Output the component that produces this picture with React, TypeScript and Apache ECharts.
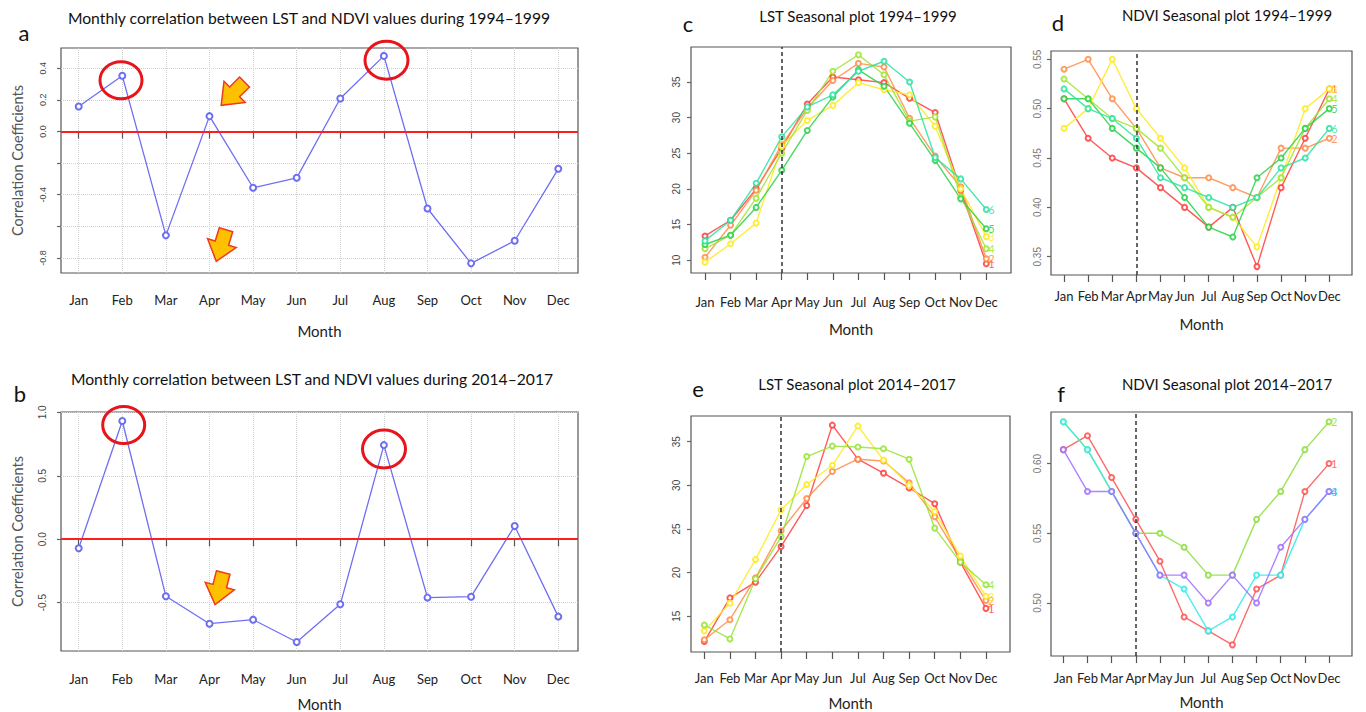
import { useEffect, useRef } from "react";
import * as echarts from "echarts";

// Month axis
const MONTHS = ["Jan", "Feb", "Mar", "Apr", "May", "Jun", "Jul", "Aug", "Sep", "Oct", "Nov", "Dec"];
const MONTH_POS = [1, 2, 3, 4, 5, 6, 7, 8, 9, 10, 11, 12];

// Monthly LST–NDVI correlation coefficients
const corr9499 = [0.158, 0.352, -0.657, 0.097, -0.356, -0.293, 0.209, 0.478, -0.487, -0.834, -0.691, -0.236];
const corr1417 = [-0.071, 0.932, -0.45, -0.666, -0.634, -0.81, -0.513, 0.742, -0.46, -0.453, 0.105, -0.61];

// Seasonal LST (°C), one row per year
const lst9499 = [
  [13.4, 15.6, 20.0, 25.7, 31.9, 35.7, 35.3, 34.9, 32.7, 30.7, 19.8, 9.5],
  [10.4, 14.9, 19.8, 26.2, 31.3, 35.2, 37.6, 37.1, 29.9, 24.6, 20.3, 10.2],
  [9.7, 12.3, 15.2, 26.0, 29.6, 31.7, 34.9, 33.9, 33.2, 28.8, 20.0, 13.3],
  [11.6, 13.5, 18.7, 25.0, 31.0, 36.5, 38.8, 36.0, 29.5, 30.1, 18.9, 11.6],
  [12.2, 13.5, 17.4, 22.6, 28.2, 32.9, 36.7, 34.4, 29.2, 24.0, 18.6, 14.4],
  [12.7, 15.6, 20.8, 27.3, 31.5, 33.2, 36.5, 37.9, 35.0, 24.4, 21.4, 17.1],
];
const lst1417 = [
  [12.1, 17.1, 18.9, 23.0, 27.7, 36.9, 33.0, 31.4, 29.7, 27.9, 21.2, 15.9],
  [12.3, 14.6, 19.4, 24.8, 28.5, 31.6, 33.0, 32.8, 30.3, 26.4, 21.5, 16.8],
  [13.3, 16.5, 21.5, 27.2, 30.1, 32.3, 36.8, 32.9, 30.0, 27.0, 21.9, 17.3],
  [14.0, 12.4, 19.3, 24.1, 33.3, 34.5, 34.4, 34.2, 33.0, 25.1, 21.2, 18.6],
];

// Seasonal NDVI, one row per year
const ndvi9499 = [
  [0.51, 0.47, 0.45, 0.44, 0.42, 0.40, 0.38, 0.40, 0.34, 0.42, 0.47, 0.52],
  [0.54, 0.55, 0.51, 0.48, 0.44, 0.43, 0.43, 0.42, 0.41, 0.46, 0.46, 0.47],
  [0.48, 0.50, 0.55, 0.50, 0.47, 0.44, 0.40, 0.39, 0.36, 0.43, 0.50, 0.52],
  [0.53, 0.51, 0.49, 0.48, 0.46, 0.43, 0.40, 0.39, 0.41, 0.43, 0.48, 0.51],
  [0.51, 0.51, 0.48, 0.46, 0.44, 0.41, 0.38, 0.37, 0.43, 0.45, 0.48, 0.50],
  [0.52, 0.50, 0.49, 0.47, 0.43, 0.42, 0.41, 0.40, 0.41, 0.44, 0.45, 0.48],
];
const ndvi1417 = [
  [0.61, 0.62, 0.59, 0.56, 0.53, 0.49, 0.48, 0.47, 0.51, 0.52, 0.58, 0.60],
  [0.63, 0.61, 0.58, 0.55, 0.55, 0.54, 0.52, 0.52, 0.56, 0.58, 0.61, 0.63],
  [0.63, 0.61, 0.58, 0.55, 0.52, 0.51, 0.48, 0.49, 0.52, 0.52, 0.56, 0.58],
  [0.61, 0.58, 0.58, 0.55, 0.52, 0.52, 0.50, 0.52, 0.50, 0.54, 0.56, 0.58],
];

// Year labels drawn at the end of each seasonal line
const yearLabels6 = ["1", "2", "3", "4", "5", "6"];
const yearLabels4 = ["1", "2", "3", "4"];

// Axis tick positions
const corrTicksA = [-0.8, -0.6, -0.4, -0.2, 0, 0.2, 0.4];
const corrLabelsA = [-0.8, -0.4, 0, 0.2, 0.4];
const corrTicksB = [-0.5, 0, 0.5, 1.0];
const lstTicks9499 = [10, 15, 20, 25, 30, 35];
const lstTicks1417 = [15, 20, 25, 30, 35];
const ndviTicks9499 = [0.35, 0.4, 0.45, 0.5, 0.55];
const ndviTicks1417 = [0.5, 0.55, 0.6];

const FONT = "Lato, 'Noto Sans', sans-serif";
const TICK_FONT = "'Liberation Sans', Arial, sans-serif";

const COLORS6 = [
  "rgba(255,60,60,0.85)",
  "rgba(255,140,70,0.85)",
  "rgba(255,235,40,0.9)",
  "rgba(160,228,50,0.85)",
  "rgba(40,210,70,0.85)",
  "rgba(40,228,160,0.85)",
];
const COLORS_E = ["rgba(255,60,60,0.85)", "rgba(255,140,70,0.85)", "rgba(255,235,40,0.9)", "rgba(150,228,50,0.85)"];
const COLORS_F = ["rgba(255,70,70,0.8)", "rgba(140,222,60,0.85)", "rgba(60,235,235,0.9)", "rgba(160,110,255,0.85)"];

const toPairs = (vals: number[]) => vals.map((v, i) => [MONTH_POS[i], v]);

// Block arrow pointing down, centred on the origin
const ARROW_PTS = [
  [-7, -17],
  [7, -17],
  [7, -3],
  [15, -3],
  [0, 16],
  [-15, -3],
  [-7, -3],
];

function arrow(x: number, y: number, rotation: number) {
  return {
    type: "polygon",
    x,
    y,
    rotation,
    z: 100,
    shape: { points: ARROW_PTS },
    style: { fill: "#FFC000", stroke: "#EE3A1E", lineWidth: 1.5 },
  };
}

function ring(cx: number, cy: number, rx: number, ry: number) {
  return {
    type: "ellipse",
    z: 100,
    shape: { cx, cy, rx, ry },
    style: { fill: "none", stroke: "#E8141B", lineWidth: 3 },
  };
}

function label(text: string, x: number, y: number, size: number) {
  return {
    type: "text",
    x,
    y,
    z: 100,
    style: {
      text,
      fontSize: size,
      fontFamily: FONT,
      fill: "#111",
      align: "center",
      verticalAlign: "middle",
    },
  };
}

function monthAxis(gridIndex: number, min: number, max: number, margin: number, nameGap: number, grid: boolean) {
  return {
    type: "value",
    gridIndex,
    min,
    max,
    axisLine: { show: false },
    axisTick: { show: true, customValues: MONTH_POS, length: 7, lineStyle: { color: "#555", width: 1.2 } },
    axisLabel: {
      customValues: MONTH_POS,
      formatter: (v: number) => MONTHS[Math.round(v) - 1],
      margin,
      color: "#222",
      fontSize: 13,
      fontFamily: FONT,
    },
    splitLine: { show: grid, lineStyle: { type: "dotted", color: "#cfcfcf", width: 1 } },
    name: "Month",
    nameLocation: "middle",
    nameGap,
    nameTextStyle: { fontSize: 15, color: "#222", fontFamily: FONT },
  };
}

function valueAxis(
  gridIndex: number,
  min: number,
  max: number,
  ticks: number[],
  labels: number[],
  digits: number,
  margin: number,
  opts: { grid?: boolean; name?: string; fontSize?: number; color?: string } = {}
) {
  return {
    type: "value",
    gridIndex,
    min,
    max,
    axisLine: { show: false },
    axisTick: { show: true, customValues: ticks, length: 4, lineStyle: { color: "#666", width: 1.2 } },
    axisLabel: {
      customValues: labels,
      rotate: 90,
      formatter: (v: number) => v.toFixed(digits),
      margin,
      color: opts.color ?? "#444",
      fontSize: opts.fontSize ?? 10,
      fontFamily: TICK_FONT,
    },
    splitLine: { show: !!opts.grid, lineStyle: { type: "dotted", color: "#cfcfcf", width: 1 } },
    name: opts.name ?? "",
    nameLocation: "middle",
    nameGap: 36,
    nameRotate: 90,
    nameTextStyle: { fontSize: 14.5, color: "#555", fontFamily: FONT },
  };
}

function corrSeries(idx: number, vals: number[]) {
  return {
    type: "line",
    xAxisIndex: idx,
    yAxisIndex: idx,
    data: toPairs(vals),
    color: "#6E6EF5",
    lineStyle: { width: 1.3, color: "#6E6EF5" },
    symbol: "emptyCircle",
    symbolSize: 6,
    itemStyle: { color: "#6E6EF5", borderWidth: 1.3 },
    markLine: {
      silent: true,
      symbol: ["none", "none"],
      label: { show: false },
      lineStyle: { color: "#FF1E1E", width: 2.2, type: "solid" },
      data: [{ yAxis: 0 }],
    },
  };
}

function seasonalSeries(idx: number, rows: number[][], colors: string[], names: string[]) {
  return rows.map((vals, k) => ({
    type: "line",
    xAxisIndex: idx,
    yAxisIndex: idx,
    data: toPairs(vals),
    color: colors[k],
    lineStyle: { width: 1.4, color: colors[k] },
    symbol: "emptyCircle",
    symbolSize: 5,
    itemStyle: { color: colors[k], borderWidth: 1 },
    endLabel: {
      show: true,
      formatter: names[k],
      color: colors[k],
      fontSize: 11,
      fontFamily: FONT,
      distance: 2,
    },
    markLine:
      k === 0
        ? {
            silent: true,
            symbol: ["none", "none"],
            label: { show: false },
            lineStyle: { color: "#333", width: 1.5, type: [4, 3] },
            data: [{ xAxis: 4 }],
          }
        : undefined,
  }));
}

export default function App() {
  const ref = useRef<HTMLDivElement>(null);

  useEffect(() => {
    document.body.style.margin = "0";
    if (!ref.current) return;
    const chart = echarts.init(ref.current, null, { renderer: "svg" });

    const gridBox = { show: true, borderColor: "#555", borderWidth: 1.2, backgroundColor: "transparent", outerBoundsMode: "none" };

    chart.setOption({
      animation: false,
      backgroundColor: "#ffffff",
      grid: [
        { ...gridBox, left: 61, top: 48, width: 517, height: 225 },
        { ...gridBox, left: 61, top: 412, width: 517, height: 239 },
        { ...gridBox, left: 691, top: 47, width: 320, height: 226 },
        { ...gridBox, left: 1051, top: 51, width: 301, height: 224 },
        { ...gridBox, left: 691, top: 416, width: 319, height: 236 },
        { ...gridBox, left: 1051, top: 412, width: 301, height: 244 },
      ],
      xAxis: [
        monthAxis(0, 0.594, 12.452, 20, 50, true),
        monthAxis(1, 0.594, 12.452, 21, 45, true),
        monthAxis(2, 0.452, 12.966, 22, 48, false),
        monthAxis(3, 0.46, 12.94, 14, 41, false),
        monthAxis(4, 0.48, 12.94, 19, 43, false),
        monthAxis(5, 0.49, 12.95, 15, 38, false),
      ],
      yAxis: [
        valueAxis(0, -0.895, 0.528, corrTicksA, corrLabelsA, 1, 14, { grid: true, name: "Correlation Coefficients", fontSize: 9 }),
        valueAxis(1, -0.881, 1.003, corrTicksB, corrTicksB, 1, 14, { grid: true, name: "Correlation Coefficients" }),
        valueAxis(2, 8.2, 39.9, lstTicks9499, lstTicks9499, 0, 10),
        valueAxis(3, 0.3315, 0.5584, ndviTicks9499, ndviTicks9499, 2, 9, { color: "#777" }),
        valueAxis(4, 10.9, 37.95, lstTicks1417, lstTicks1417, 0, 10),
        valueAxis(5, 0.462, 0.637, ndviTicks1417, ndviTicks1417, 2, 9, { color: "#777" }),
      ],
      series: [
        corrSeries(0, corr9499),
        corrSeries(1, corr1417),
        ...seasonalSeries(2, lst9499, COLORS6, yearLabels6),
        ...seasonalSeries(3, ndvi9499, COLORS6, yearLabels6),
        ...seasonalSeries(4, lst1417, COLORS_E, yearLabels4),
        ...seasonalSeries(5, ndvi1417, COLORS_F, yearLabels4),
      ],
      graphic: [
        label("Monthly correlation between LST and NDVI values during 1994\u20131999", 309, 18, 15.7),
        label("Monthly correlation between LST and NDVI values during 2014\u20132017", 312, 379, 15.7),
        label("LST Seasonal plot 1994\u20131999", 858, 16, 15),
        label("NDVI Seasonal plot 1994\u20131999", 1227, 15, 15),
        label("LST Seasonal plot 2014\u20132017", 857, 384, 15),
        label("NDVI Seasonal plot 2014\u20132017", 1227, 384, 15),
        label("a", 24, 32, 22),
        label("b", 20, 393, 22),
        label("c", 688, 23, 22),
        label("d", 1058, 22, 22),
        label("e", 698, 388, 22),
        label("f", 1061, 393, 22),
        ring(121, 80.3, 21, 18.5),
        ring(386.5, 60.3, 21.5, 19),
        ring(123.7, 425, 21, 18.5),
        ring(384, 449, 21.5, 19),
        arrow(232.5, 94, -Math.PI / 4),
        arrow(221, 246, -0.3),
        arrow(219, 589, -0.25),
      ],
    });

    return () => chart.dispose();
  }, []);

  return <div ref={ref} style={{ width: 1366, height: 712 }} />;
}
